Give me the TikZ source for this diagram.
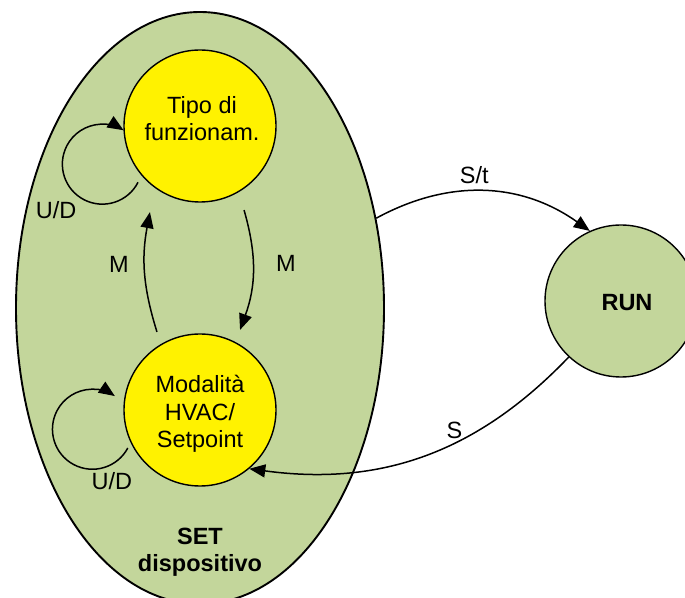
\documentclass[tikz,border=0pt]{standalone}
\usepackage{fontspec}
\setmainfont{Liberation Sans}
\usetikzlibrary{arrows.meta,shapes.geometric}
\definecolor{setgreen}{RGB}{195,214,155}
\tikzset{
    state/.style={circle, draw, line width=1.4pt, fill=yellow, minimum size=152pt, inner sep=0pt},
    lbl/.style={font=\fontsize{23.5}{27.5}\selectfont, inner sep=3.3pt},
    trans/.style={-{Triangle[length=16pt,width=13pt]}, line width=1.5pt},
}

\begin{document}
\begin{tikzpicture}[x=1pt,y=1pt]
    \useasboundingbox (0,0) rectangle (685,597);
    \clip (0,0) rectangle (685,597);

    % SET region
    \node[ellipse, draw, line width=1.9pt, fill=setgreen, minimum width=368pt, minimum height=592pt, inner sep=0pt] (set) at (200,289) {};
    \node[lbl, font=\fontsize{23.5}{27.5}\selectfont\bfseries, align=center] at ([yshift=52.5]set.south) {SET\\dispositivo};

    % states
    \node[state] (tipo) at (200,471) {};
    \node[state] (modal) at (200,187) {};
    \node[state, fill=setgreen] (run) at (621,296) {};
    \node[lbl, align=center] at ([shift={(2,7.5)}]tipo.center) {Tipo di\\funzionam.};
    \node[lbl, align=center] at ([shift={(0,-4)}]modal.center) {Modalità\\HVAC/\\Setpoint};
    \node[lbl, font=\fontsize{23.5}{27.5}\selectfont\bfseries] at ([shift={(6,-2)}]run.center) {RUN};

    % self loops
    \draw[trans] ([shift={(-5,-5)}]tipo.222) arc[start angle=-27, end angle=-302, radius=40] node[lbl, pos=0.35, below left] {U/D};
    \draw[trans] ([shift={(-4.5,-2)}]modal.208) arc[start angle=-28, end angle=-304, radius=40] node[lbl, pos=0.12, below=4pt] {U/D};

    % M transitions
    \draw[trans] ([shift={(-4.7,11.7)}]modal.120) to[bend left=14] node[lbl, pos=0.57, left=12pt] {M} ([shift={(-11.7,-19.7)}]tipo.240);
    \draw[trans] ([shift={(5.7,-17.7)}]tipo.300) to[bend left=18] node[lbl, pos=0.44, right=19pt] {M} ([shift={(1.7,13.7)}]modal.60);

    % to and from RUN
    \draw[trans] (set.27) to[bend left=32] node[lbl, pos=0.45, above=3pt] {S/t} (run.114);
    \draw[trans] (run.227) to[bend left=27] node[lbl, pos=0.4, above] {S} (modal.-50);
\end{tikzpicture}
\end{document}
